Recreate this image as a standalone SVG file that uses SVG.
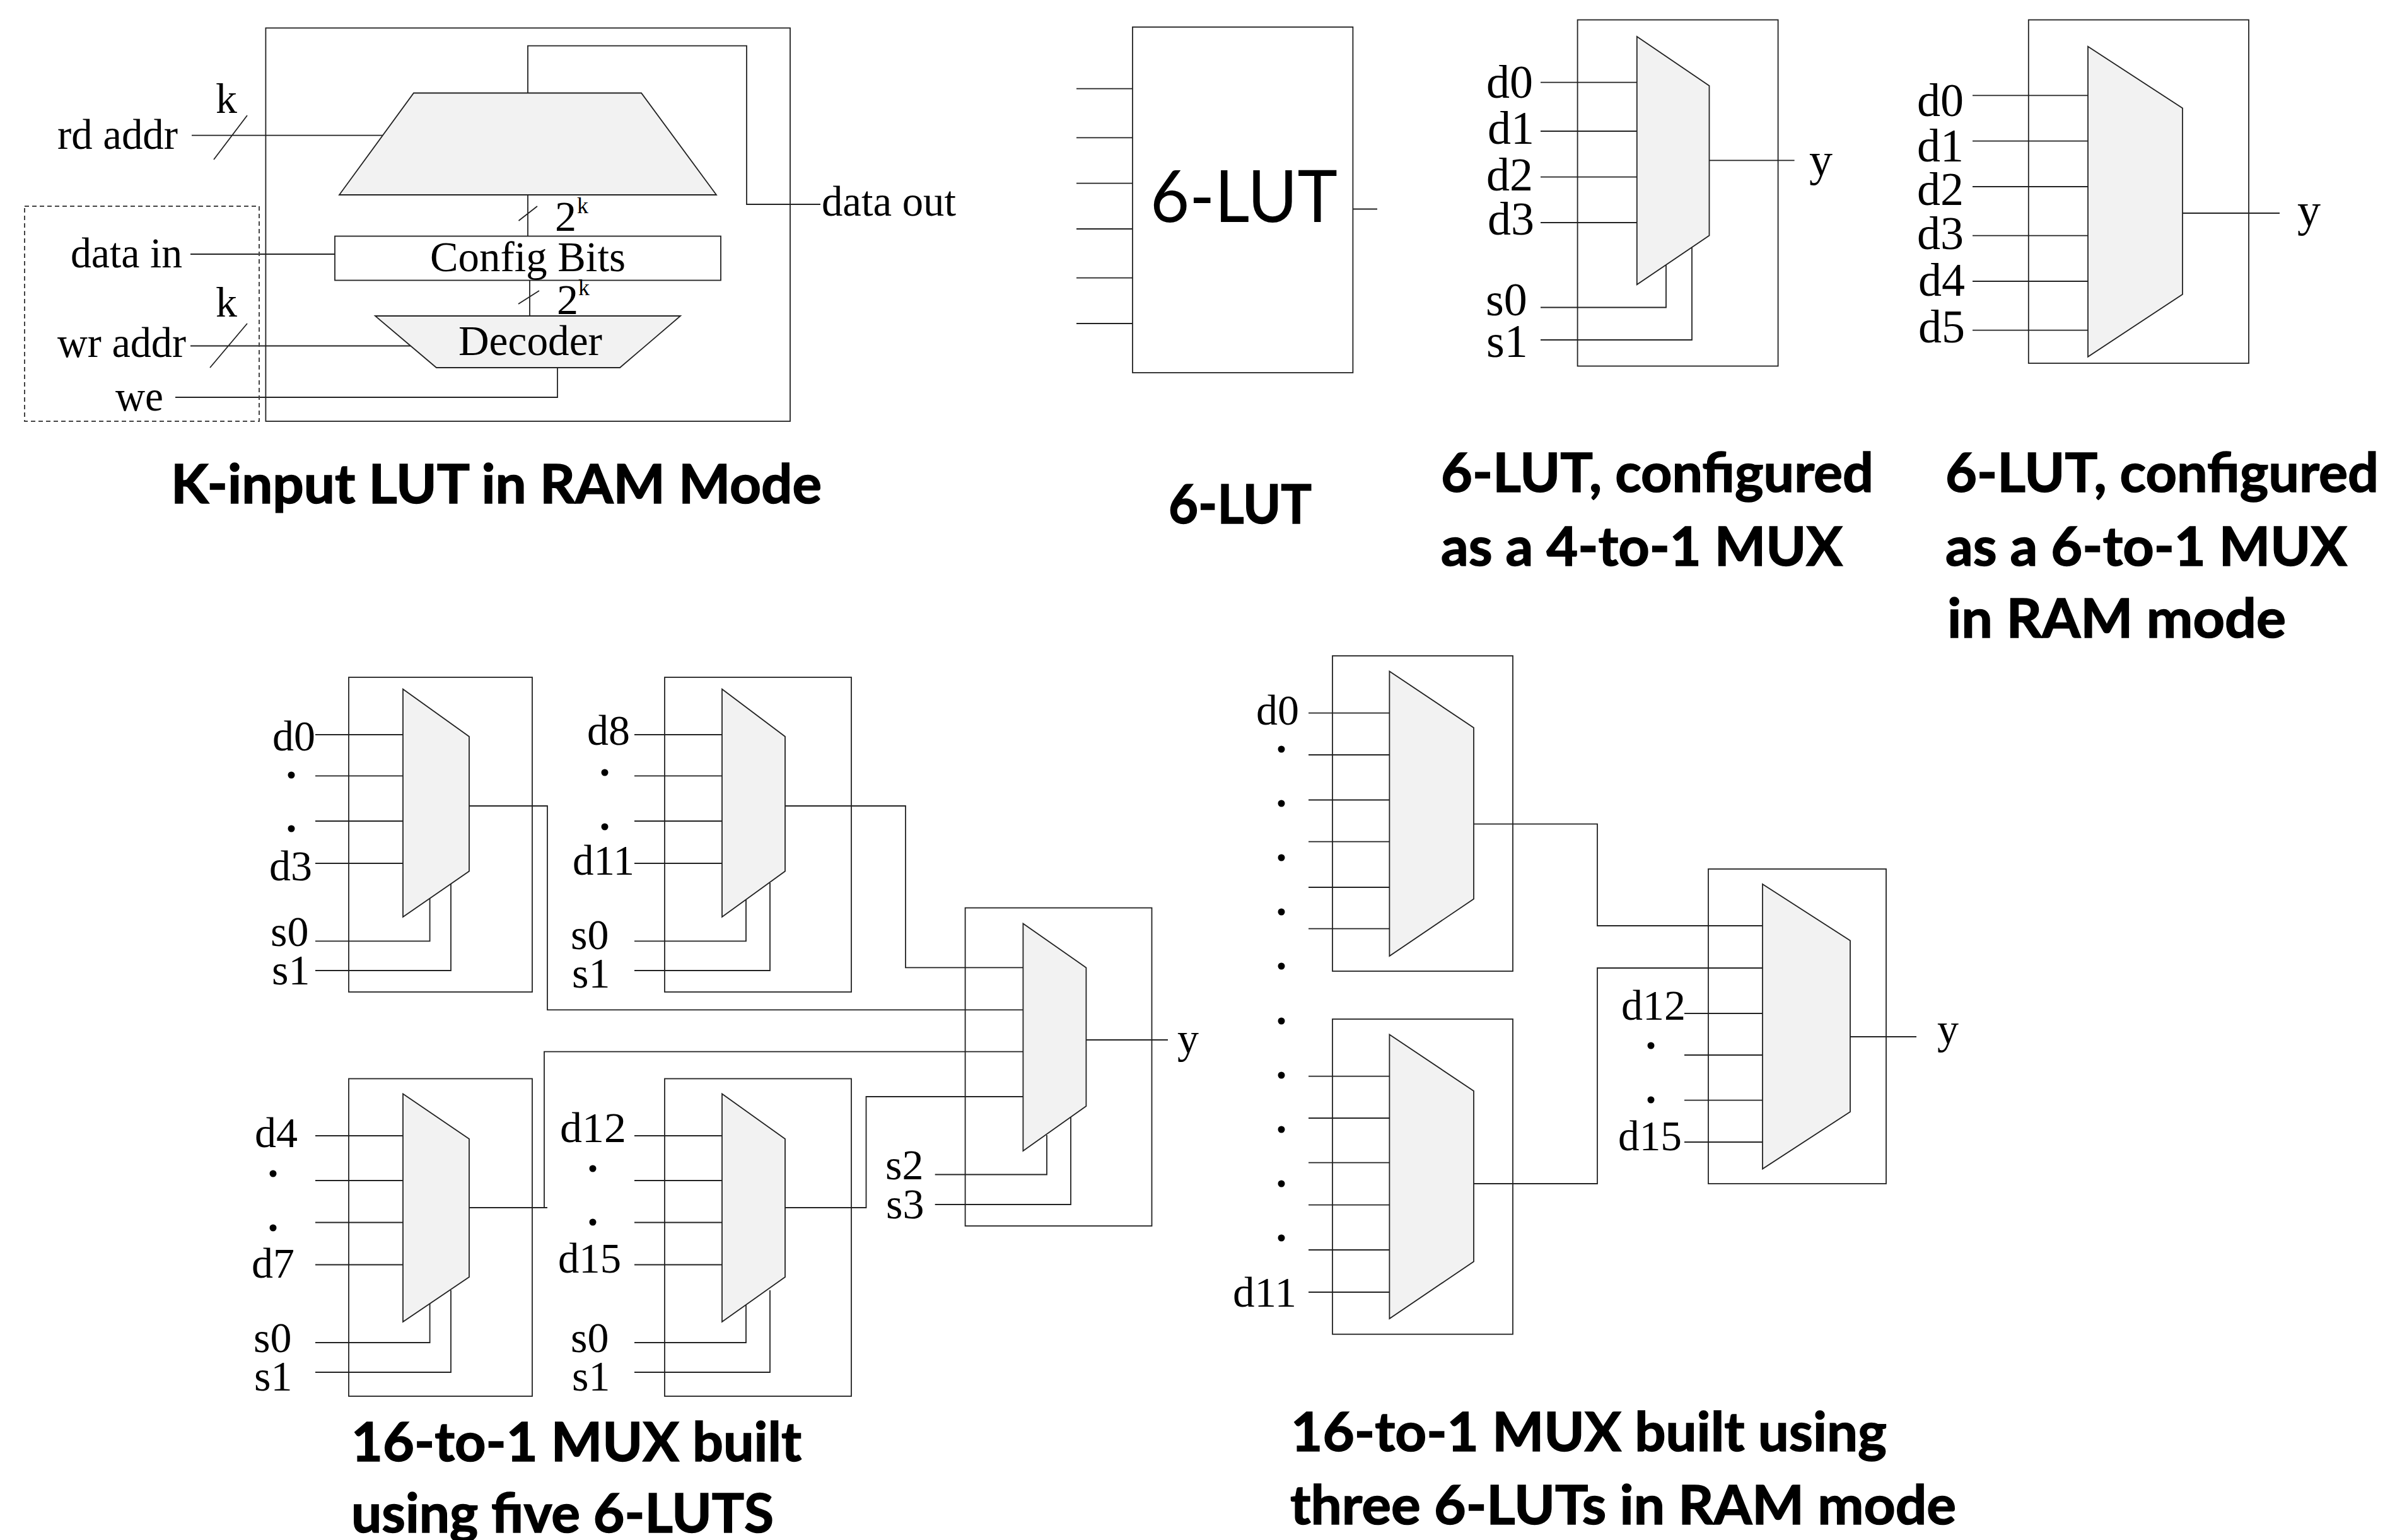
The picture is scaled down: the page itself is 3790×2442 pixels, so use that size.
<svg xmlns="http://www.w3.org/2000/svg" width="3790" height="2442" viewBox="0 0 3790 2442">
<style>
.b{fill:none;stroke:#222;stroke-width:1.800}
.d{fill:none;stroke:#444;stroke-width:2;stroke-dasharray:7 5}
.m{fill:#f2f2f2;stroke:#222;stroke-width:1.800}
.w{fill:none;stroke:#222;stroke-width:1.800}
text{fill:#000}
.s{font-family:"Liberation Serif","Times New Roman",serif;font-size:68px}
.l{font-size:74px}
.e{font-size:36px}
.p{font-weight:700}
.c{font-family:Lato,"Noto Sans",sans-serif;font-weight:700;font-size:87px;stroke:#000;stroke-width:1.500}
.u{font-family:Lato,"Noto Sans",sans-serif;font-size:115px}
</style>
<rect width="3790" height="2442" fill="#fff"/>
<g id="connectors">
<path class="w" d="M837 147.500V72.600H1184V324H1301"/>
<path class="w" d="M304 214.600H609M392 183L339 253"/>
<path class="w" d="M837 309V374.500M852 327L822.500 350"/>
<path class="w" d="M840 444.500V501M855 461L822 482"/>
<path class="w" d="M302 403H531"/>
<path class="w" d="M302 548.500H651M392 513L333 583"/>
<path class="w" d="M278 630H884V583"/>
<path class="w" d="M1707 140.600H1796M1707 218.300H1796M1707 290.600H1796M1707 363H1796M1707 440.600H1796M1707 513H1796M2145 331.500H2184"/>
<path class="w" d="M2443 130.600H2596M2443 208H2596M2443 280.600H2596M2443 353H2596M2443 487.500H2642V420M2443 539H2683V392M2710.500 254.400H2845.600"/>
<path class="w" d="M3128 151.300H3311M3128 223.600H3311M3128 296H3311M3128 373.600H3311M3128 446H3311M3128 523.600H3311M3461 338H3615"/>
<path class="w" d="M500 1165H639M500 1230.400H639M500 1302H639M500 1369H639M500 1492.400H681.600V1424M500 1539H715V1402"/>
<path class="w" d="M1006 1165H1145M1006 1230.400H1145M1006 1302H1145M1006 1369H1145M1006 1492.400H1183V1426M1006 1539H1221V1400"/>
<path class="w" d="M500 1801H639M500 1872H639M500 1938.500H639M500 2005.500H639M500 2129H681.600V2066M500 2176H715V2046"/>
<path class="w" d="M1006 1801H1145M1006 1872H1145M1006 1938.500H1145M1006 2005.500H1145M1006 2129H1183V2066M1006 2176H1221V2046"/>
<path class="w" d="M744 1278H868V1601.400H1622"/>
<path class="w" d="M1245 1278H1436V1534.400H1622"/>
<path class="w" d="M744 1915H868M863 1915V1667.600H1622"/>
<path class="w" d="M1245 1915H1373.500V1739H1622"/>
<path class="w" d="M1482.700 1862.500H1660V1800M1482.700 1910H1698V1769M1722.400 1649H1852"/>
<path class="w" d="M2075 1130.600H2203.400M2075 1197H2203.400M2075 1268.500H2203.400M2075 1334.700H2203.400M2075 1407H2203.400M2075 1472.600H2203.400"/>
<path class="w" d="M2075 1706.600H2203.400M2075 1773H2203.400M2075 1843.600H2203.400M2075 1910.700H2203.400M2075 1982H2203.400M2075 2049H2203.400"/>
<path class="w" d="M2337 1306.600H2533V1468H2795"/>
<path class="w" d="M2337 1877H2533V1535H2795"/>
<path class="w" d="M2671 1607H2795M2671 1673H2795M2671 1744.700H2795M2671 1811H2795M2934 1644H3039"/>
</g>
<g id="ram-lut">
<rect class="b" x="421.400" y="44.400" width="831.600" height="623.600"/>
<rect class="d" x="39" y="327" width="372" height="341"/>
<polygon class="m" points="656,147.500 1017,147.500 1136,309 538,309"/>
<rect class="b" x="531" y="374.500" width="612" height="70"/>
<polygon class="m" points="595,501 1079,501 983,583 692,583"/>
<text class="s" x="91" y="236" textLength="191" lengthAdjust="spacingAndGlyphs">rd addr</text>
<text class="s" x="342" y="179">k</text>
<text class="s" x="1303" y="342" textLength="213" lengthAdjust="spacingAndGlyphs">data out</text>
<text class="s" x="880" y="366">2</text>
<text class="s e" x="915" y="338">k</text>
<text class="s" x="682" y="430" textLength="310" lengthAdjust="spacingAndGlyphs">Config Bits</text>
<text class="s" x="883" y="498">2</text>
<text class="s e" x="917" y="468">k</text>
<text class="s" x="112" y="424" textLength="177" lengthAdjust="spacingAndGlyphs">data in</text>
<text class="s" x="342" y="502">k</text>
<text class="s" x="727" y="563" textLength="228" lengthAdjust="spacingAndGlyphs">Decoder</text>
<text class="s" x="91" y="566" textLength="204" lengthAdjust="spacingAndGlyphs">wr addr</text>
<text class="s" x="183" y="651" textLength="76" lengthAdjust="spacingAndGlyphs">we</text>
<text class="c" x="271" y="798" textLength="1032" lengthAdjust="spacingAndGlyphs">K-input LUT in RAM Mode</text>
</g>
<g id="lut6">
<rect class="b" x="1796" y="42.900" width="349.400" height="548.100"/>
<text class="u" x="1824" y="351.500" textLength="297" lengthAdjust="spacingAndGlyphs">6-LUT</text>
<text class="c" x="1853" y="830" textLength="227" lengthAdjust="spacingAndGlyphs">6-LUT</text>
</g>
<g id="lut6-mux4">
<rect class="b" x="2501.600" y="31.500" width="318" height="549"/>
<polygon class="m" points="2595.800,58 2710.500,136 2710.500,373.600 2595.800,451.300"/>
<text class="s l" x="2357" y="154.700">d0</text>
<text class="s l" x="2359" y="227.700">d1</text>
<text class="s l" x="2357" y="302">d2</text>
<text class="s l" x="2359" y="372">d3</text>
<text class="s l" x="2356" y="500">s0</text>
<text class="s l" x="2357" y="566">s1</text>
<text class="s l" x="2869" y="278">y</text>
<text class="c" x="2285" y="780" textLength="686" lengthAdjust="spacingAndGlyphs">6-LUT, configured</text>
<text class="c" x="2285" y="897" textLength="637" lengthAdjust="spacingAndGlyphs">as a 4-to-1 MUX</text>
</g>
<g id="lut6-mux6">
<rect class="b" x="3216.800" y="31.500" width="349.200" height="544.500"/>
<polygon class="m" points="3311,73.700 3461,171.400 3461,466.700 3311,565.800"/>
<text class="s l" x="3040" y="184">d0</text>
<text class="s l" x="3040" y="256.400">d1</text>
<text class="s l" x="3040" y="324.700">d2</text>
<text class="s l" x="3040" y="394.700">d3</text>
<text class="s l" x="3042" y="469.400">d4</text>
<text class="s l" x="3042" y="543.400">d5</text>
<text class="s l" x="3643" y="358">y</text>
<text class="c" x="3085" y="780" textLength="687" lengthAdjust="spacingAndGlyphs">6-LUT, configured</text>
<text class="c" x="3085" y="897" textLength="637" lengthAdjust="spacingAndGlyphs">as a 6-to-1 MUX</text>
<text class="c" x="3088" y="1011" textLength="537" lengthAdjust="spacingAndGlyphs">in RAM mode</text>
</g>
<g id="five-lut-a">
<rect class="b" x="553" y="1074" width="291" height="499"/>
<polygon class="m" points="639,1092.700 744,1168 744,1381.500 639,1454"/>
<text class="s" x="432" y="1190">d0</text>
<text class="s p" x="462" y="1234" text-anchor="middle">.</text>
<text class="s p" x="462" y="1319" text-anchor="middle">.</text>
<text class="s" x="427" y="1396">d3</text>
<text class="s" x="429" y="1500">s0</text>
<text class="s" x="431" y="1561">s1</text>
</g>
<g id="five-lut-b">
<rect class="b" x="1054" y="1074" width="296" height="499"/>
<polygon class="m" points="1145,1092.700 1245,1168 1245,1381.500 1145,1454"/>
<text class="s" x="931" y="1181">d8</text>
<text class="s p" x="959" y="1230" text-anchor="middle">.</text>
<text class="s p" x="959" y="1316" text-anchor="middle">.</text>
<text class="s" x="908" y="1387" textLength="98" lengthAdjust="spacingAndGlyphs">d11</text>
<text class="s" x="905" y="1505">s0</text>
<text class="s" x="907" y="1566">s1</text>
</g>
<g id="five-lut-c">
<rect class="b" x="553" y="1710.500" width="291" height="503.500"/>
<polygon class="m" points="639,1734.600 744,1806 744,2025 639,2096"/>
<text class="s" x="404" y="1819">d4</text>
<text class="s p" x="433" y="1866" text-anchor="middle">.</text>
<text class="s p" x="433" y="1952" text-anchor="middle">.</text>
<text class="s" x="399" y="2026">d7</text>
<text class="s" x="402" y="2144">s0</text>
<text class="s" x="403" y="2205">s1</text>
</g>
<g id="five-lut-d">
<rect class="b" x="1054" y="1710.500" width="296" height="503.500"/>
<polygon class="m" points="1145,1734.600 1245,1806 1245,2025 1145,2096"/>
<text class="s" x="888" y="1810.600" textLength="105" lengthAdjust="spacingAndGlyphs">d12</text>
<text class="s p" x="940" y="1857.500" text-anchor="middle">.</text>
<text class="s p" x="940" y="1942.500" text-anchor="middle">.</text>
<text class="s" x="885" y="2018" textLength="100" lengthAdjust="spacingAndGlyphs">d15</text>
<text class="s" x="905" y="2144">s0</text>
<text class="s" x="907" y="2205">s1</text>
</g>
<g id="five-lut-e">
<rect class="b" x="1530.600" y="1439.600" width="295.900" height="504.400"/>
<polygon class="m" points="1622.400,1464.600 1722.400,1534.400 1722.400,1754 1622.400,1825"/>
<text class="s" x="1404" y="1870">s2</text>
<text class="s" x="1405" y="1932">s3</text>
<text class="s" x="1867" y="1670">y</text>
<text class="c" x="557" y="2317" textLength="714" lengthAdjust="spacingAndGlyphs">16-to-1 MUX built</text>
<text class="c" x="557" y="2430" textLength="670" lengthAdjust="spacingAndGlyphs">using five 6-LUTS</text>
</g>
<g id="ram-lut-f">
<rect class="b" x="2113" y="1040" width="286" height="500"/>
<polygon class="m" points="2203.400,1064.400 2337,1154 2337,1425.400 2203.400,1516"/>
<text class="s" x="1992" y="1149">d0</text>
<text class="s p" x="2032" y="1193" text-anchor="middle">.</text>
<text class="s p" x="2032" y="1279" text-anchor="middle">.</text>
<text class="s p" x="2032" y="1365" text-anchor="middle">.</text>
<text class="s p" x="2032" y="1451" text-anchor="middle">.</text>
<text class="s p" x="2032" y="1537" text-anchor="middle">.</text>
<text class="s p" x="2032" y="1623.500" text-anchor="middle">.</text>
<text class="s p" x="2032" y="1709.700" text-anchor="middle">.</text>
<text class="s p" x="2032" y="1796" text-anchor="middle">.</text>
<text class="s p" x="2032" y="1882" text-anchor="middle">.</text>
<text class="s p" x="2032" y="1968" text-anchor="middle">.</text>
</g>
<g id="ram-lut-g">
<rect class="b" x="2113" y="1616" width="286" height="499.700"/>
<polygon class="m" points="2203.400,1640.400 2337,1730 2337,2000.500 2203.400,2091"/>
<text class="s" x="1955" y="2072" textLength="101" lengthAdjust="spacingAndGlyphs">d11</text>
</g>
<g id="ram-lut-h">
<rect class="b" x="2709" y="1378" width="282" height="499"/>
<polygon class="m" points="2795,1402 2934,1491.600 2934,1763 2795,1853.500"/>
<text class="s" x="2571" y="1617" textLength="102" lengthAdjust="spacingAndGlyphs">d12</text>
<text class="s p" x="2618" y="1662.500" text-anchor="middle">.</text>
<text class="s p" x="2618" y="1748.700" text-anchor="middle">.</text>
<text class="s" x="2566" y="1824" textLength="101" lengthAdjust="spacingAndGlyphs">d15</text>
<text class="s" x="3072" y="1655">y</text>
<text class="c" x="2047" y="2300.700" textLength="945" lengthAdjust="spacingAndGlyphs">16-to-1 MUX built using</text>
<text class="c" x="2046" y="2417" textLength="1056" lengthAdjust="spacingAndGlyphs">three 6-LUTs in RAM mode</text>
</g>
</svg>
